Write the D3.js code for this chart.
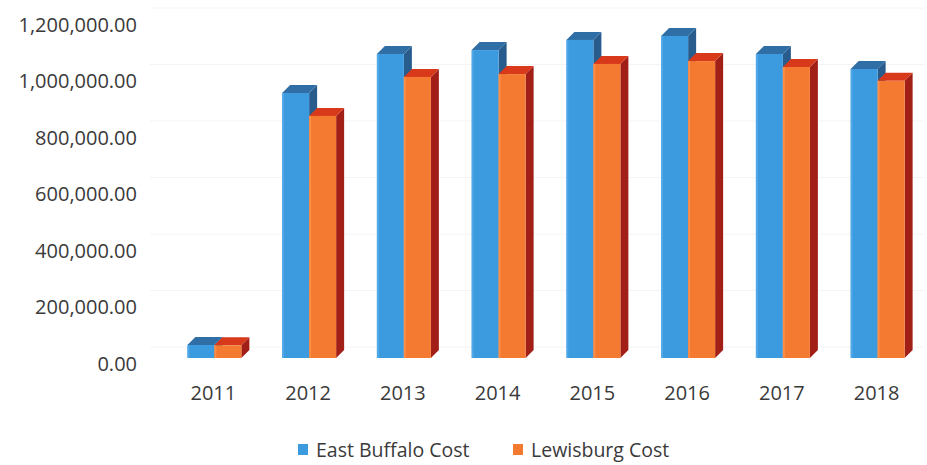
<!DOCTYPE html>
<html>
<head>
<meta charset="utf-8">
<script src="https://cdn.jsdelivr.net/npm/d3@7"></script>
<style>
  html, body { margin: 0; padding: 0; background: #fff; }
  svg { display: block; }
  text { font-family: "Open Sans", "Noto Sans", sans-serif; fill: #3a3a3a; }
</style>
</head>
<body>
<svg id="chart" width="927" height="465"></svg>
<script>
// Yearly cost per township
const years = ["2011", "2012", "2013", "2014", "2015", "2016", "2017", "2018"];
const eastBuffaloCost = [46000, 938000, 1076000, 1090000, 1126000, 1140000, 1076000, 1023000];
const lewisburgCost = [45000, 857000, 995000, 1005000, 1041000, 1051000, 1030000, 981000];
const seriesNames = ["East Buffalo Cost", "Lewisburg Cost"];
const yTicks = [0, 200000, 400000, 600000, 800000, 1000000, 1200000];

const palette = {
  "East Buffalo Cost": { front: "#3c9ade", top: "#306fa6", side: "#285c8c", edge: "#5db3ee" },
  "Lewisburg Cost":    { front: "#f57a31", top: "#d8391b", side: "#a11f17", edge: "#ff9a55" }
};

const svg = d3.select("#chart");
const depth = 8; // oblique offset of the bar boxes

const y = d3.scaleLinear().domain([0, 1200000]).range([358, 19]);
const x0 = d3.scaleBand().domain(years).range([167, 925]).paddingInner(0.43).paddingOuter(0.215);
const x1 = d3.scaleBand().domain(seriesNames).range([0, x0.bandwidth()]);

// back-wall gridlines
svg.append("g")
  .selectAll("line")
  .data(yTicks)
  .join("line")
  .attr("x1", 150)
  .attr("x2", 925)
  .attr("y1", d => y(d) - depth - 3)
  .attr("y2", d => y(d) - depth - 3)
  .attr("stroke", "#f4f4f4")
  .attr("stroke-width", 1);

// value axis
const yAxis = d3.axisLeft(y).tickValues(yTicks).tickFormat(d3.format(",.2f")).tickSize(0).tickPadding(0);
svg.append("g")
  .attr("transform", "translate(137,6)")
  .call(yAxis)
  .call(g => g.select(".domain").remove())
  .call(g => g.selectAll("text").attr("font-size", 20).attr("font-family", null).attr("fill", "#3a3a3a"));

// category axis
const xAxis = d3.axisBottom(x0).tickSize(0).tickPadding(0);
svg.append("g")
  .attr("transform", "translate(-1,386)")
  .call(xAxis)
  .call(g => g.select(".domain").remove())
  .call(g => g.selectAll("text").attr("font-size", 20).attr("font-family", null).attr("fill", "#3a3a3a"));

// bars as oblique boxes: side, top, then front
const rows = years.map((yr, i) => ({
  year: yr,
  values: [
    { name: seriesNames[0], value: eastBuffaloCost[i] },
    { name: seriesNames[1], value: lewisburgCost[i] }
  ]
}));

const groups = svg.append("g")
  .selectAll("g")
  .data(rows)
  .join("g")
  .attr("transform", d => `translate(${x0(d.year)},0)`);

const bars = groups.selectAll("g")
  .data(d => d.values)
  .join("g");

bars.append("path")
  .attr("fill", d => palette[d.name].side)
  .attr("d", d => {
    const xr = x1(d.name) + x1.bandwidth();
    const yt = y(d.value), yb = y(0);
    return `M${xr},${yt}L${xr + depth},${yt - depth}L${xr + depth},${yb - depth}L${xr},${yb}Z`;
  });

bars.append("path")
  .attr("fill", d => palette[d.name].top)
  .attr("d", d => {
    const xl = x1(d.name), xr = xl + x1.bandwidth();
    const yt = y(d.value);
    return `M${xl},${yt}L${xl + depth},${yt - depth}L${xr + depth},${yt - depth}L${xr},${yt}Z`;
  });

bars.append("rect")
  .attr("x", d => x1(d.name))
  .attr("y", d => y(d.value))
  .attr("width", x1.bandwidth())
  .attr("height", d => y(0) - y(d.value))
  .attr("fill", d => palette[d.name].front);

bars.append("rect")
  .attr("x", d => x1(d.name))
  .attr("y", d => y(d.value))
  .attr("width", 2)
  .attr("height", d => y(0) - y(d.value))
  .attr("fill", d => palette[d.name].edge)
  .attr("opacity", 0.6);

// legend
const legendItems = [
  { name: seriesNames[0], x: 298 },
  { name: seriesNames[1], x: 513 }
];
const legend = svg.append("g")
  .selectAll("g")
  .data(legendItems)
  .join("g")
  .attr("transform", d => `translate(${d.x},444)`);

legend.append("rect")
  .attr("width", 10)
  .attr("height", 11)
  .attr("fill", d => palette[d.name].front);

legend.append("text")
  .attr("x", 18)
  .attr("y", 6)
  .attr("dy", "0.35em")
  .attr("font-size", 19.5)
  .text(d => d.name);
</script>
</body>
</html>
